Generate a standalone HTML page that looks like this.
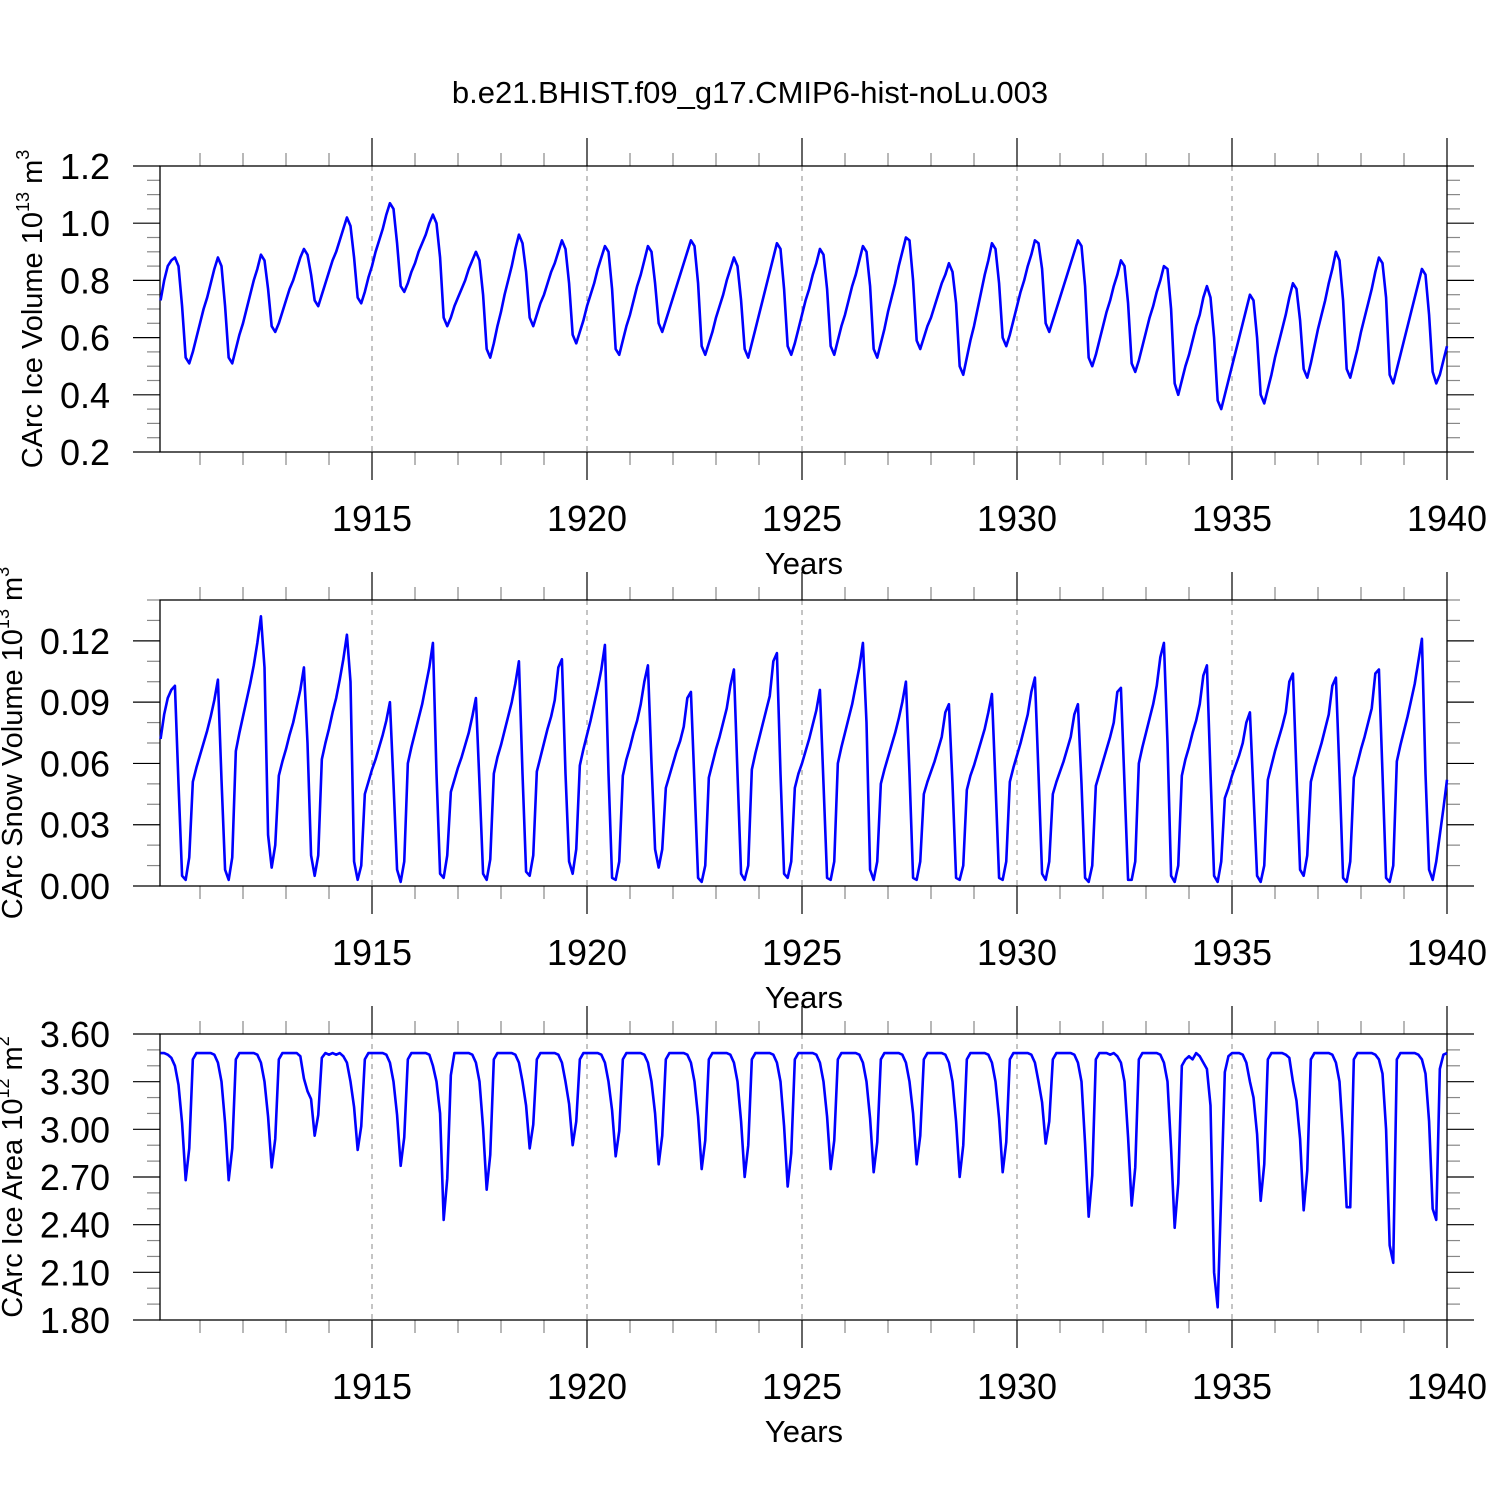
<!DOCTYPE html>
<html><head><meta charset="utf-8"><title>CArc sea ice</title>
<style>
html,body{margin:0;padding:0;background:#fff;}
svg{display:block;font-family:"Liberation Sans",sans-serif;}
</style></head>
<body>
<svg id="chart" width="1500" height="1500" viewBox="0 0 1500 1500">
<rect x="0" y="0" width="1500" height="1500" fill="#fff"/>
<text x="750" y="103" text-anchor="middle" font-size="31" fill="#000">b.e21.BHIST.f09_g17.CMIP6-hist-noLu.003</text>
</svg>
<script>
// ---- data (monthly, Jan 1910 .. Dec 1939) ----
const years = [1915, 1920, 1925, 1930, 1935, 1940];
const startYear = 1910;
const volTicks = [0.2, 0.4, 0.6, 0.8, 1.0, 1.2];
const volTickLabels = ["0.2", "0.4", "0.6", "0.8", "1.0", "1.2"];
const snowTicks = [0.00, 0.03, 0.06, 0.09, 0.12];
const snowTickLabels = ["0.00", "0.03", "0.06", "0.09", "0.12"];
const areaTicks = [1.8, 2.1, 2.4, 2.7, 3.0, 3.3, 3.6];
const areaTickLabels = ["1.80", "2.10", "2.40", "2.70", "3.00", "3.30", "3.60"];

const iceVolume = [
.73,.80,.85,.87,.88,.85,.71,.53,.51,.55,.60,.65,
.70,.74,.79,.84,.88,.85,.71,.53,.51,.56,.61,.65,
.70,.75,.80,.84,.89,.87,.77,.64,.62,.65,.69,.73,
.77,.80,.84,.88,.91,.89,.82,.73,.71,.75,.79,.83,
.87,.90,.94,.98,1.02,.99,.88,.74,.72,.76,.81,.85,
.90,.94,.98,1.03,1.07,1.05,.93,.78,.76,.79,.83,.86,
.90,.93,.96,1.00,1.03,1.00,.88,.67,.64,.67,.71,.74,
.77,.80,.84,.87,.90,.87,.75,.56,.53,.58,.64,.69,
.75,.80,.85,.91,.96,.93,.83,.67,.64,.68,.72,.75,
.79,.83,.86,.90,.94,.91,.79,.61,.58,.62,.66,.71,
.75,.79,.84,.88,.92,.90,.77,.56,.54,.59,.64,.68,
.73,.78,.82,.87,.92,.90,.79,.65,.62,.66,.70,.74,
.78,.82,.86,.90,.94,.92,.79,.57,.54,.58,.62,.67,
.71,.75,.80,.84,.88,.85,.73,.56,.53,.58,.63,.68,
.73,.78,.83,.88,.93,.91,.77,.57,.54,.58,.63,.68,
.73,.77,.82,.86,.91,.89,.77,.57,.54,.59,.64,.68,
.73,.78,.82,.87,.92,.90,.78,.56,.53,.58,.63,.69,
.74,.79,.85,.90,.95,.94,.80,.59,.56,.60,.64,.67,
.71,.75,.79,.82,.86,.83,.72,.50,.47,.53,.59,.64,
.70,.76,.82,.87,.93,.91,.79,.60,.57,.61,.66,.71,
.76,.80,.85,.89,.94,.93,.84,.65,.62,.66,.70,.74,
.78,.82,.86,.90,.94,.92,.78,.53,.50,.54,.59,.64,
.69,.73,.78,.82,.87,.85,.72,.51,.48,.52,.57,.62,
.67,.71,.76,.80,.85,.84,.70,.44,.40,.45,.50,.54,
.59,.64,.68,.74,.78,.74,.60,.38,.35,.40,.45,.50,
.55,.60,.65,.70,.75,.73,.60,.40,.37,.42,.47,.53,
.58,.63,.68,.74,.79,.77,.66,.49,.46,.51,.57,.63,
.68,.73,.79,.84,.90,.87,.73,.49,.46,.51,.56,.62,
.67,.72,.77,.83,.88,.86,.74,.47,.44,.49,.54,.59,
.64,.69,.74,.79,.84,.82,.68,.48,.44,.47,.52,.57
];

// snow volume in units of 0.001 x 10^13 m^3
const snowVolumeMilli = [
72,84,92,96,98,50,5,3,14,51,58,64,
70,76,83,91,101,52,8,3,14,66,75,83,
91,99,108,119,132,107,25,9,20,54,61,67,
74,80,88,96,107,70,15,5,15,62,70,77,
85,92,101,111,123,100,12,3,10,45,51,57,
62,68,74,81,90,50,8,2,12,60,68,75,
82,89,98,107,119,55,6,4,15,46,52,58,
63,69,75,83,92,50,6,3,13,55,63,69,
76,83,90,99,110,55,7,5,15,56,63,70,
77,83,91,107,111,55,12,6,18,59,67,74,
81,89,97,106,118,55,4,3,12,54,62,68,
75,81,89,100,108,60,18,9,18,48,54,60,
66,71,78,92,95,50,4,2,10,53,60,67,
73,80,87,98,106,55,6,3,10,57,65,72,
79,86,93,110,114,55,6,4,12,48,55,60,
66,72,79,86,96,50,4,3,12,60,68,75,
82,89,98,107,119,80,8,3,12,50,57,63,
69,75,82,90,100,55,4,3,12,45,51,56,
61,67,73,85,89,50,4,3,10,47,54,59,
65,71,77,85,94,50,4,3,12,51,58,64,
70,77,84,95,102,55,6,3,12,45,51,56,
61,67,73,84,89,50,4,2,10,49,55,61,
67,73,80,95,97,50,3,3,12,60,68,75,
82,89,98,112,119,70,5,2,10,54,62,68,
75,81,89,103,108,55,5,2,12,43,48,54,
59,64,70,80,85,45,5,2,10,52,59,66,
72,78,85,100,104,55,8,5,15,51,58,64,
70,77,84,98,102,55,4,2,12,53,60,67,
73,80,87,104,106,55,4,2,10,61,69,76,
83,91,99,110,121,55,8,3,12,25,38,52
];

const iceArea = [
3.48,3.48,3.47,3.45,3.40,3.28,3.04,2.68,2.88,3.44,3.48,3.48,
3.48,3.48,3.48,3.47,3.42,3.30,3.04,2.68,2.88,3.44,3.48,3.48,
3.48,3.48,3.48,3.47,3.42,3.30,3.08,2.76,2.94,3.44,3.48,3.48,
3.48,3.48,3.48,3.46,3.32,3.24,3.19,2.96,3.09,3.45,3.48,3.47,
3.48,3.47,3.48,3.46,3.42,3.30,3.14,2.87,3.02,3.44,3.48,3.48,
3.48,3.48,3.48,3.47,3.42,3.30,3.09,2.77,2.95,3.44,3.48,3.48,
3.48,3.48,3.48,3.47,3.40,3.30,3.10,2.43,2.69,3.34,3.48,3.48,
3.48,3.48,3.48,3.47,3.42,3.30,3.01,2.62,2.84,3.44,3.48,3.48,
3.48,3.48,3.48,3.47,3.42,3.30,3.15,2.88,3.03,3.44,3.48,3.48,
3.48,3.48,3.48,3.47,3.42,3.30,3.16,2.90,3.05,3.44,3.48,3.48,
3.48,3.48,3.48,3.47,3.42,3.30,3.12,2.83,2.99,3.44,3.48,3.48,
3.48,3.48,3.48,3.47,3.42,3.30,3.10,2.78,2.96,3.44,3.48,3.48,
3.48,3.48,3.48,3.47,3.42,3.30,3.08,2.75,2.93,3.44,3.48,3.48,
3.48,3.48,3.48,3.47,3.42,3.30,3.05,2.70,2.90,3.44,3.48,3.48,
3.48,3.48,3.48,3.47,3.42,3.30,3.02,2.64,2.85,3.44,3.48,3.48,
3.48,3.48,3.48,3.47,3.42,3.30,3.08,2.75,2.93,3.44,3.48,3.48,
3.48,3.48,3.48,3.47,3.42,3.30,3.07,2.73,2.92,3.44,3.48,3.48,
3.48,3.48,3.48,3.47,3.42,3.30,3.10,2.78,2.96,3.44,3.48,3.48,
3.48,3.48,3.48,3.47,3.42,3.30,3.05,2.70,2.90,3.44,3.48,3.48,
3.48,3.48,3.48,3.47,3.42,3.30,3.07,2.73,2.92,3.44,3.48,3.48,
3.48,3.48,3.48,3.47,3.42,3.30,3.17,2.91,3.05,3.44,3.48,3.48,
3.48,3.48,3.48,3.47,3.42,3.30,2.91,2.45,2.71,3.44,3.48,3.48,
3.48,3.47,3.48,3.46,3.42,3.30,2.95,2.52,2.76,3.44,3.48,3.48,
3.48,3.48,3.48,3.47,3.42,3.30,2.88,2.38,2.66,3.40,3.44,3.46,
3.44,3.48,3.46,3.42,3.38,3.15,2.10,1.88,2.60,3.36,3.46,3.48,
3.48,3.48,3.47,3.42,3.30,3.20,2.97,2.55,2.78,3.44,3.48,3.48,
3.48,3.48,3.47,3.45,3.30,3.18,2.94,2.49,2.74,3.44,3.48,3.48,
3.48,3.48,3.48,3.47,3.42,3.30,2.95,2.51,2.51,3.44,3.48,3.48,
3.48,3.48,3.48,3.47,3.44,3.35,3.00,2.27,2.16,3.44,3.48,3.48,
3.48,3.48,3.48,3.47,3.44,3.35,3.05,2.50,2.43,3.38,3.47,3.48
];

// ---- layout ----
const NS = "http://www.w3.org/2000/svg";
const svg = document.getElementById("chart");
const X0 = 160, X1 = 1447;
function xScale(t) { return 157 + (t - startYear) * 43; }
function monthTime(i) { return startYear + (i + 1) / 12; }

function mk(tag, attrs, parent) {
  const e = document.createElementNS(NS, tag);
  for (const k in attrs) e.setAttribute(k, attrs[k]);
  (parent || svg).appendChild(e);
  return e;
}

function panel(cfg) {
  const g = mk("g", {});
  
  
  const yScale = v => cfg.bottom - (v - cfg.ymin) / (cfg.ymax - cfg.ymin) * (cfg.bottom - cfg.top);
  years.slice(0, -1).forEach(yr => {
    const gl = mk("line", {x1: xScale(yr), x2: xScale(yr), y1: cfg.top, y2: cfg.bottom, stroke: "#888", "stroke-width": 1, "stroke-dasharray": "5,5"}, g);
    
    
  });
  for (let yr = startYear + 1; yr <= 1940; yr++) {
    const major = yr % 5 === 0;
    const L = major ? 28 : 13;
    const xx = xScale(yr);
    const t1 = mk("line", {x1: xx, x2: xx, y1: cfg.top - L, y2: cfg.top, stroke: major ? "#000" : "#888", "stroke-width": 1.2}, g);
    
    
    const t2 = mk("line", {x1: xx, x2: xx, y1: cfg.bottom, y2: cfg.bottom + L, stroke: major ? "#000" : "#888", "stroke-width": 1.2}, g);
    
    
  }
  years.forEach(yr => {
    const tl = mk("text", {x: xScale(yr), y: cfg.bottom + 79, "text-anchor": "middle", "font-size": 36, fill: "#000"}, g);
    tl.textContent = yr;
    
    
  });
  const xt = mk("text", {x: 804, y: cfg.bottom + 122, "text-anchor": "middle", "font-size": 31, fill: "#000"}, g);
  xt.textContent = "Years";
  
  
  const nMinor = Math.round((cfg.ymax - cfg.ymin) / cfg.minor);
  for (let k = 0; k <= nMinor; k++) {
    const v = cfg.ymin + k * cfg.minor;
    const yy = yScale(v);
    const isMajor = cfg.ticks.some(t => Math.abs(t - v) < 1e-6);
    const L = isMajor ? 27 : 13;
    const a = mk("line", {x1: X0 - L, x2: X0, y1: yy, y2: yy, stroke: isMajor ? "#000" : "#888", "stroke-width": 1.2}, g);
    
    
    const b = mk("line", {x1: X1, x2: X1 + L, y1: yy, y2: yy, stroke: isMajor ? "#000" : "#888", "stroke-width": 1.2}, g);
    
    
  }
  cfg.ticks.forEach((v, k) => {
    const tl = mk("text", {x: 110, y: yScale(v) + 13, "text-anchor": "end", "font-size": 36, fill: "#000"}, g);
    tl.textContent = cfg.tickLabels[k];
    
    
  });
  const fr = mk("rect", {x: X0, y: cfg.top, width: X1 - X0, height: cfg.bottom - cfg.top, fill: "none", stroke: "#000", "stroke-width": 1.3}, g);
  
  
  const pts = cfg.values.map((v, i) => xScale(monthTime(i)).toFixed(2) + "," + yScale(v * cfg.unit).toFixed(2)).join(" ");
  const pl = mk("polyline", {points: pts, fill: "none", stroke: "#0000ff", "stroke-width": 2.6, "stroke-linejoin": "round"}, g);
  
  
  const yc = (cfg.top + cfg.bottom) / 2;
  const yt = mk("text", {x: cfg.titleX, y: yc, "text-anchor": "middle", "font-size": 29, fill: "#000", transform: "rotate(-90 " + cfg.titleX + " " + yc + ")"}, g);
  
  
  yt.appendChild(document.createTextNode(cfg.title + " 10"));
  const s1 = mk("tspan", {dy: -13, "font-size": 18}, yt);
  s1.textContent = cfg.exp;
  const s2 = mk("tspan", {dy: 13}, yt);
  s2.textContent = " m";
  const s3 = mk("tspan", {dy: -13, "font-size": 18}, yt);
  s3.textContent = cfg.pow;
}

panel({name: "ice-volume-panel", seriesName: "ice-volume-line", top: 166, bottom: 452, ymin: 0.2, ymax: 1.2, minor: 0.05,
  ticks: volTicks, tickLabels: volTickLabels, values: iceVolume, unit: 1, titleX: 42,
  title: "CArc Ice Volume", exp: "13", pow: "3"});
panel({name: "snow-volume-panel", seriesName: "snow-volume-line", top: 600, bottom: 886, ymin: 0, ymax: 0.14, minor: 0.01,
  ticks: snowTicks, tickLabels: snowTickLabels, values: snowVolumeMilli, unit: 0.001, titleX: 22,
  title: "CArc Snow Volume", exp: "13", pow: "3"});
panel({name: "ice-area-panel", seriesName: "ice-area-line", top: 1034, bottom: 1320, ymin: 1.8, ymax: 3.6, minor: 0.1,
  ticks: areaTicks, tickLabels: areaTickLabels, values: iceArea, unit: 1, titleX: 22,
  title: "CArc Ice Area", exp: "12", pow: "2"});
</script>
</body></html>
